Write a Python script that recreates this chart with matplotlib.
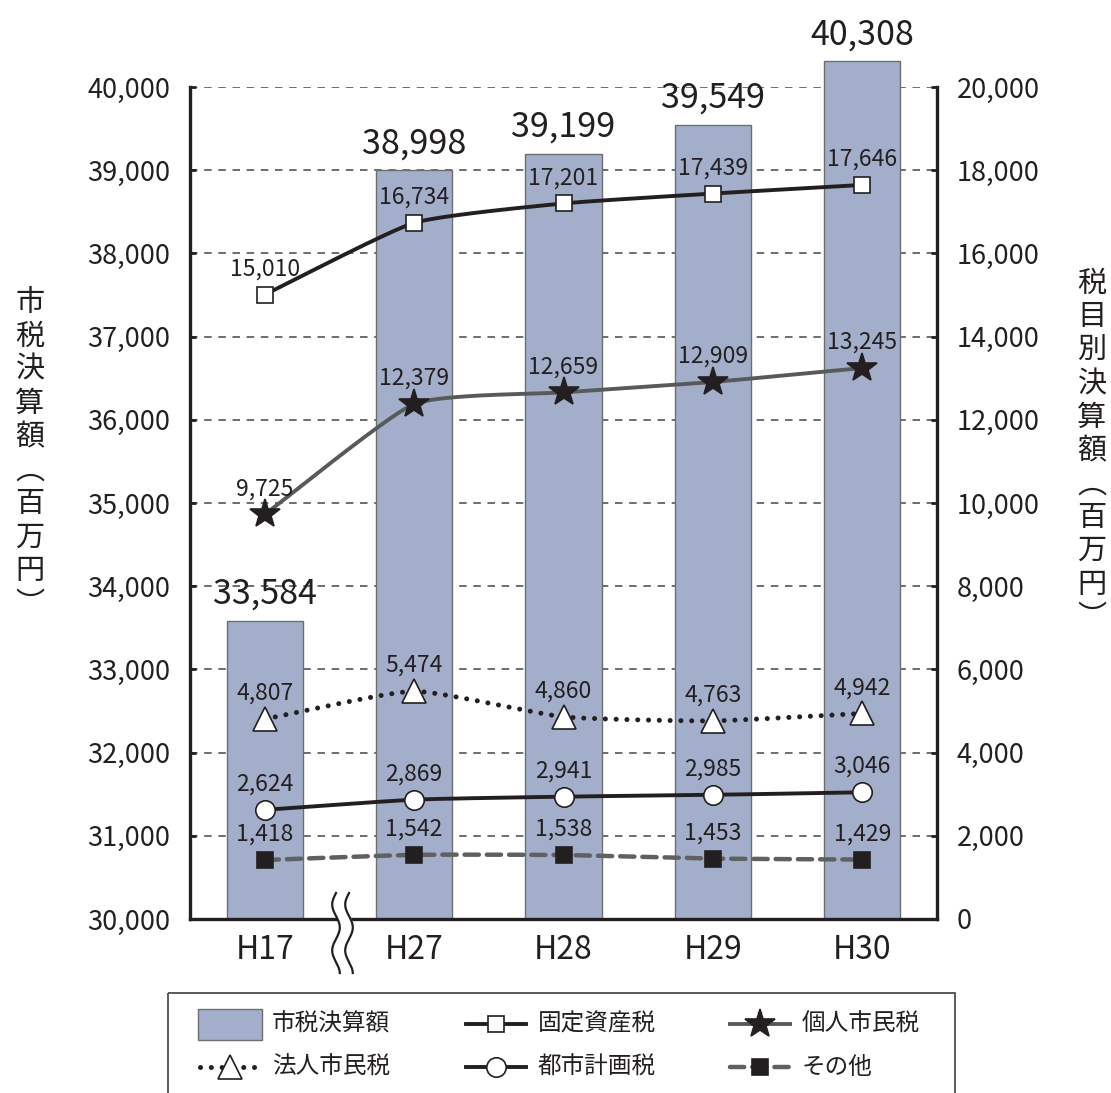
import numpy as np
import matplotlib
matplotlib.use("Agg")
import matplotlib.pyplot as plt
from matplotlib.patches import Rectangle
from matplotlib.lines import Line2D
from matplotlib.ticker import FuncFormatter

plt.rcParams['font.family'] = ['Noto Sans CJK JP', 'DejaVu Sans']

# ---- data -------------------------------------------------------------
years = ['H17', 'H27', 'H28', 'H29', 'H30']
total_tax = [33584, 38998, 39199, 39549, 40308]        # 市税決算額 (left axis)
fixed_asset = [15010, 16734, 17201, 17439, 17646]      # 固定資産税
individual = [9725, 12379, 12659, 12909, 13245]        # 個人市民税
corporate = [4807, 5474, 4860, 4763, 4942]             # 法人市民税
city_planning = [2624, 2869, 2941, 2985, 3046]         # 都市計画税
other = [1418, 1542, 1538, 1453, 1429]                 # その他

left_ticks = list(range(30000, 40001, 1000))
right_ticks = list(range(0, 20001, 2000))

left_label = '市税決算額︵百万円︶'
right_label = '税目別決算額︵百万円︶'

# ---- style ------------------------------------------------------------
INK = '#231f20'
BAR = '#a3afca'
BAR_EDGE = '#6e6e70'
GREY_LINE = '#58595b'
DASH_GREY = '#606062'

W, H = 1111, 1093
fig = plt.figure(figsize=(W / 100, H / 100), dpi=100)
ax1 = fig.add_axes([190 / W, 1 - 919 / H, 747 / W, (919 - 87) / H])
ax2 = ax1.twinx()

x = np.arange(len(years))
base = left_ticks[0]

# bars: total city tax (may rise above the top gridline)
ax1.set_axisbelow(True)
heights = np.array(total_tax) - base
ax1.bar(x, heights, bottom=base, width=0.51, color=BAR, edgecolor=BAR_EDGE,
        linewidth=1.0, zorder=2, clip_on=False)
for xi, v in zip(x, total_tax):
    ax1.annotate(f'{v:,}', (xi, v), xytext=(0, 19), textcoords='offset points',
                 ha='center', va='center', fontsize=24.5, color=INK,
                 annotation_clip=False, zorder=5)

ax1.set_xlim(-0.5, len(years) - 0.5)
ax1.set_ylim(left_ticks[0], left_ticks[-1])
ax1.set_yticks(left_ticks)
ax1.yaxis.set_major_formatter(FuncFormatter(lambda v, p: f'{int(v):,}'))
ax1.grid(axis='y', color='#555555', linestyle=(0, (4.5, 4)), linewidth=1.2)
ax1.set_xticks(x)
ax1.set_xticklabels(years, fontsize=23, color=INK)

ax2.set_ylim(right_ticks[0], right_ticks[-1])
ax2.set_yticks(right_ticks)
ax2.yaxis.set_major_formatter(FuncFormatter(lambda v, p: f'{int(v):,}'))

for ax in (ax1, ax2):
    for side in ('left', 'right', 'bottom'):
        ax.spines[side].set_color(INK)
        ax.spines[side].set_linewidth(2.4)
        ax.spines[side].set_zorder(6)
    ax.spines['top'].set_visible(False)
ax1.spines['right'].set_visible(False)
ax2.spines['left'].set_visible(False)
ax2.spines['bottom'].set_visible(False)

ax1.tick_params(axis='y', direction='in', length=4, width=2, colors=INK,
                labelsize=19.5, pad=14)
ax2.tick_params(axis='y', direction='in', length=4, width=2, colors=INK,
                labelsize=19.5, pad=14)
ax1.tick_params(axis='x', length=0, pad=11, labelcolor=INK)


def smooth(xs, ys, tension=0.5, n=40):
    """Cardinal Hermite curve through the given points."""
    xs = np.asarray(xs, float)
    ys = np.asarray(ys, float)
    mx, my = tension * np.gradient(xs), tension * np.gradient(ys)
    t = np.linspace(0, 1, n)
    h00 = 2 * t**3 - 3 * t**2 + 1
    h10 = t**3 - 2 * t**2 + t
    h01 = -2 * t**3 + 3 * t**2
    h11 = t**3 - t**2
    px, py = [], []
    for i in range(len(xs) - 1):
        px.append(h00 * xs[i] + h10 * mx[i] + h01 * xs[i + 1] + h11 * mx[i + 1])
        py.append(h00 * ys[i] + h10 * my[i] + h01 * ys[i + 1] + h11 * my[i + 1])
    return np.concatenate(px), np.concatenate(py)


series = [
    dict(v=fixed_asset, lc=INK, ls='-', lw=2.8, m='s', ms=12, mfc='white', mec=INK, name='固定資産税'),
    dict(v=individual, lc=GREY_LINE, ls='-', lw=2.8, m='*', ms=22, mfc=INK, mec=INK, name='個人市民税'),
    dict(v=corporate, lc=INK, ls=(0, (0.01, 2.15)), lw=3.6, m='^', ms=17, mfc='white', mec=INK, name='法人市民税'),
    dict(v=city_planning, lc=INK, ls='-', lw=2.8, m='o', ms=14, mfc='white', mec=INK, name='都市計画税'),
    dict(v=other, lc=DASH_GREY, ls=(0, (3.2, 1.8)), lw=3.2, m='s', ms=12, mfc=INK, mec=INK, name='その他'),
]

for s in series:
    sx, sy = smooth(x, s['v'])
    ax2.plot(sx, sy, color=s['lc'], linestyle=s['ls'], linewidth=s['lw'],
             dash_capstyle='round', zorder=3)
    ax2.plot(x, s['v'], linestyle='none', marker=s['m'], markersize=s['ms'],
             markerfacecolor=s['mfc'], markeredgecolor=s['mec'],
             markeredgewidth=1.2, zorder=4)
    for xi, v in zip(x, s['v']):
        ax2.annotate(f'{v:,}', (xi, v), xytext=(0, 18.5), textcoords='offset points',
                     ha='center', va='center', fontsize=16.5, color=INK, zorder=5)

# ---- overlay in pixel coordinates: axis labels, break mark, legend -------
ov = fig.add_axes([0, 0, 1, 1])
ov.set_xlim(0, W)
ov.set_ylim(H, 0)
ov.axis('off')
ov.set_zorder(10)

for i, ch in enumerate(left_label):
    ov.text(30, 303 + 33.5 * i, ch, ha='center', va='center', fontsize=21, color=INK)
for i, ch in enumerate(right_label):
    ov.text(1092, 284 + 33.4 * i, ch, ha='center', va='center', fontsize=21, color=INK)

# axis break between H17 and H27
yy = np.linspace(893, 973, 200)
wave = 3.8 * np.sin(2 * np.pi * (yy - 893) / 46 + np.pi)
lx = 336 + wave
rx = 349 + wave
ov.fill_betweenx(yy, lx, rx, color='white', zorder=1)
ov.plot(lx, yy, color=INK, lw=1.6, zorder=2)
ov.plot(rx, yy, color=INK, lw=1.6, zorder=2)

# legend
ov.add_patch(Rectangle((168, 993), 787, 130, fill=False, edgecolor='#4d4d4f',
                       linewidth=1.3, clip_on=False))
row_y = [1024, 1067]
ov.add_patch(Rectangle((198, 1009), 64, 31, facecolor=BAR, edgecolor=BAR_EDGE, linewidth=1.0))
ov.text(272, row_y[0], '市税決算額', ha='left', va='center', fontsize=17, color=INK)

slots = [
    (series[0], 466, row_y[0]),
    (series[1], 730, row_y[0]),
    (series[2], 200, row_y[1]),
    (series[3], 466, row_y[1]),
    (series[4], 730, row_y[1]),
]
for s, x0, y0 in slots:
    seg_w = 60
    ov.add_line(Line2D([x0, x0 + seg_w], [y0, y0], color=s['lc'], linestyle=s['ls'],
                       linewidth=s['lw'], dash_capstyle='round'))
    ov.add_line(Line2D([x0 + seg_w / 2], [y0], linestyle='none', marker=s['m'],
                       markersize=s['ms'], markerfacecolor=s['mfc'],
                       markeredgecolor=s['mec'], markeredgewidth=1.2))
    ov.text(x0 + seg_w + (12 if x0 > 300 else 12), y0, s['name'], ha='left',
            va='center', fontsize=17, color=INK)

fig.savefig('out.png', dpi=100)
